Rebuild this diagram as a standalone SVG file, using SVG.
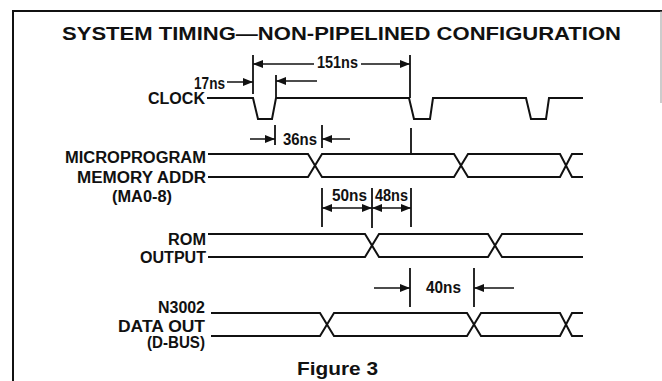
<svg xmlns="http://www.w3.org/2000/svg" width="662" height="381" viewBox="0 0 662 381">
<style>
text{font-family:"Liberation Sans",Arial,sans-serif;font-weight:bold;fill:#111;}
.lbl{font-size:16px;}
.ttl{font-size:18px;}
.sig{fill:none;stroke:#111;stroke-width:2;stroke-linejoin:miter;}
.dim{fill:none;stroke:#111;stroke-width:1.5;}
.tick{fill:none;stroke:#111;stroke-width:1.8;}
.frame{fill:none;stroke:#111;stroke-width:2;}
</style>
<defs>
<marker id="ah" viewBox="0 0 10 8" refX="10" refY="4" markerWidth="10" markerHeight="8" markerUnits="userSpaceOnUse" orient="auto-start-reverse">
<path d="M0,0 L10,4 L0,8 Z" fill="#111"/>
</marker>
</defs>
<rect width="662" height="381" fill="#fff"/>
<g id="frame">
<path class="frame" d="M13,381 V11 H662"/>
<path d="M661,11 V103" stroke="#999" stroke-width="1" fill="none"/>
</g>
<g id="title">
<text class="ttl" x="62" y="40" textLength="559" lengthAdjust="spacingAndGlyphs">SYSTEM TIMING—NON-PIPELINED CONFIGURATION</text>
</g>
<g id="clock">
<text class="lbl" x="205" y="104" text-anchor="end" textLength="57" lengthAdjust="spacingAndGlyphs">CLOCK</text>
<path class="sig" d="M207,98 H253 L258,119 H272 L276,98 H409 L414,119 H430 L433,98 H526 L531,119 H546 L549,98 H583"/>
</g>
<g id="ma">
<text class="lbl" x="206" y="163" text-anchor="end" textLength="141" lengthAdjust="spacingAndGlyphs">MICROPROGRAM</text>
<text class="lbl" x="206" y="183" text-anchor="end" textLength="129" lengthAdjust="spacingAndGlyphs">MEMORY ADDR</text>
<text class="lbl" x="172" y="202" text-anchor="end" textLength="60" lengthAdjust="spacingAndGlyphs">(MA0-8)</text>
<path class="sig" d="M208,154 H308 L322,177 H454 L468,154 H560 L572,177 H583"/>
<path class="sig" d="M208,177 H308 L322,154 H454 L468,177 H560 L572,154 H583"/>
</g>
<g id="rom">
<text class="lbl" x="206" y="245" text-anchor="end" textLength="38" lengthAdjust="spacingAndGlyphs">ROM</text>
<text class="lbl" x="206" y="263" text-anchor="end" textLength="66" lengthAdjust="spacingAndGlyphs">OUTPUT</text>
<path class="sig" d="M208,234 H365 L379,257 H488 L502,234 H583"/>
<path class="sig" d="M208,257 H365 L379,234 H488 L502,257 H583"/>
</g>
<g id="dbus">
<text class="lbl" x="205" y="313" text-anchor="end" textLength="47" lengthAdjust="spacingAndGlyphs">N3002</text>
<text class="lbl" x="205" y="332" text-anchor="end" textLength="87" lengthAdjust="spacingAndGlyphs">DATA OUT</text>
<text class="lbl" x="205" y="348" text-anchor="end" textLength="58" lengthAdjust="spacingAndGlyphs">(D-BUS)</text>
<path class="sig" d="M211,313 H320 L334,336 H467 L481,313 H560 L572,336 H583"/>
<path class="sig" d="M211,336 H320 L334,313 H467 L481,336 H560 L572,313 H583"/>
</g>
<g id="caption">
<text class="ttl" x="297" y="375" textLength="81" lengthAdjust="spacingAndGlyphs">Figure 3</text>
</g>
<g id="connectors">
<path class="tick" d="M253,55 V94"/>
<path class="tick" d="M410,55 V98"/>
<path class="tick" d="M276,75 V97"/>
<path class="dim" d="M227,82 H253" marker-end="url(#ah)"/>
<path class="dim" d="M314,64 H253" marker-end="url(#ah)"/>
<path class="dim" d="M361,64 H410" marker-end="url(#ah)"/>
<path class="dim" d="M317,81 H276" marker-end="url(#ah)"/>
<path class="tick" d="M275,125 V145"/>
<path class="tick" d="M322,125 V148"/>
<path class="tick" d="M411,128 V153"/>
<path class="dim" d="M250,139 H275" marker-end="url(#ah)"/>
<path class="dim" d="M350,139 H322" marker-end="url(#ah)"/>
<path class="tick" d="M322,188 V227"/>
<path class="tick" d="M372,188 V228"/>
<path class="tick" d="M411,188 V227"/>
<path class="dim" d="M322,208 H372" marker-start="url(#ah)" marker-end="url(#ah)"/>
<path class="dim" d="M372,208 H411" marker-start="url(#ah)" marker-end="url(#ah)"/>
<path class="tick" d="M410,268 V307"/>
<path class="tick" d="M474,268 V307"/>
<path class="dim" d="M374,288 H410" marker-end="url(#ah)"/>
<path class="dim" d="M514,288 H474" marker-end="url(#ah)"/>
</g>
<g id="dim-labels">
<text class="lbl" x="225" y="89" text-anchor="end" textLength="31" lengthAdjust="spacingAndGlyphs">17ns</text>
<text class="lbl" x="317" y="68" textLength="41" lengthAdjust="spacingAndGlyphs">151ns</text>
<text class="lbl" x="283" y="145" textLength="34" lengthAdjust="spacingAndGlyphs">36ns</text>
<text class="lbl" x="332" y="201" textLength="35" lengthAdjust="spacingAndGlyphs">50ns</text>
<text class="lbl" x="375" y="201" textLength="33" lengthAdjust="spacingAndGlyphs">48ns</text>
<text class="lbl" x="426" y="293" textLength="35" lengthAdjust="spacingAndGlyphs">40ns</text>
</g>
</svg>
